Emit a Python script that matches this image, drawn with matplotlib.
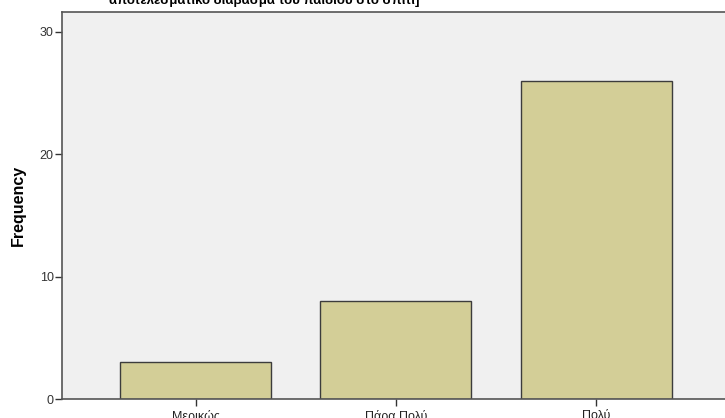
import matplotlib.pyplot as plt

categories = ['Μερικώς', 'Πάρα Πολύ', 'Πολύ']
counts = [3, 8, 26]
yticks = [0, 10, 20, 30]

plt.rcParams['font.family'] = ['Liberation Sans', 'DejaVu Sans']

fig = plt.figure(figsize=(7.25, 4.18), dpi=100)
ax = fig.add_axes([62/725, 19/418, 1 - 62/725 + 0.01, (399-12)/418])
ax.set_facecolor('#f0f0f0')

x = range(len(categories))
ax.bar(x, counts, width=0.755, color='#d3ce97', edgecolor='#3c3c3c', linewidth=1.0, zorder=2)

ax.set_xlim(-0.668, 2.68)
ax.set_ylim(0, 31.6)
ax.set_xticks(list(x))
ax.set_xticklabels(categories, fontsize=9, color='#222222')
ax.set_yticks(yticks)
ax.set_yticklabels([str(t) for t in yticks], fontsize=9, color='#333333')
ax.tick_params(axis='both', length=5, width=1, color='#333333')
ax.tick_params(axis='x', pad=3)
ax.tick_params(axis='y', pad=1)
ax.set_ylabel('Frequency', fontsize=11.5, fontweight='bold', labelpad=10)

for s in ['left', 'bottom', 'top']:
    ax.spines[s].set_color('#555555')
    ax.spines[s].set_linewidth(1.2)
ax.spines['right'].set_visible(False)

# title is cut off at the top of the image
fig.text(264/725, 1 - 4/418, 'αποτελεσματικό διάβασμα του παιδιού στο σπίτι]',
         ha='center', va='baseline', fontsize=9.5, fontweight='bold')

fig.savefig('out.png', dpi=100)
